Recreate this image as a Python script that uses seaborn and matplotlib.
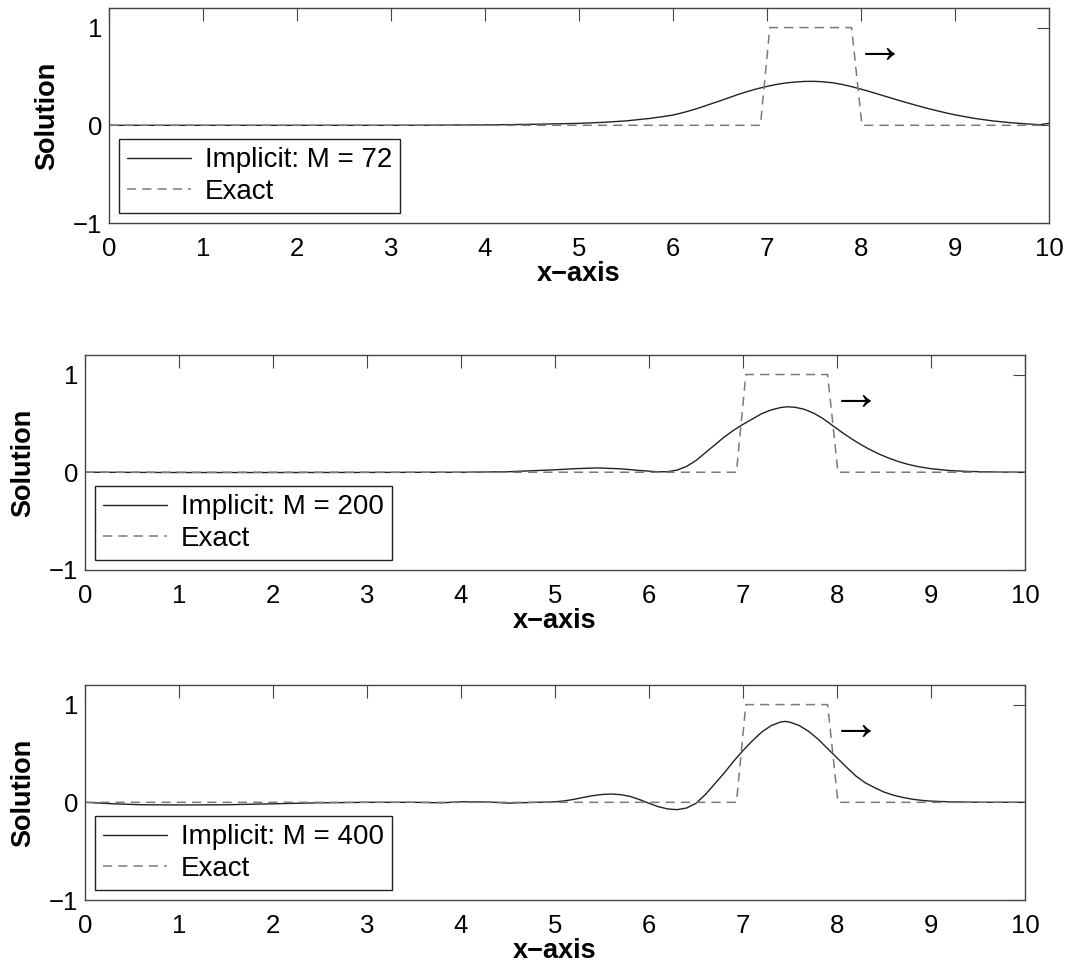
import matplotlib
matplotlib.use("Agg")
import matplotlib.pyplot as plt
import seaborn as sns

# ---------------- data ----------------
x_ticks = list(range(0, 11))
y_ticks = [-1, 0, 1]

exact_x = [0, 6.93, 7.03, 7.9, 8.01, 10]
exact_y = [0, 0, 1, 1, 0, 0]

m72_x = [0, 1, 2, 3, 3.5, 4, 4.5, 5, 5.25, 5.5, 5.75, 5.9, 6.0, 6.1, 6.2, 6.3,
         6.4, 6.5, 6.6, 6.7, 6.8, 6.9, 7.0, 7.1, 7.2, 7.3, 7.4, 7.5, 7.6, 7.7,
         7.8, 7.9, 8.0, 8.1, 8.2, 8.3, 8.4, 8.5, 8.6, 8.7, 8.8, 8.9, 9.0, 9.2,
         9.4, 9.6, 9.8, 9.9, 10]
m72_y = [0, 0, 0, 0, 0.002, 0.004, 0.01, 0.02, 0.03, 0.045, 0.07, 0.09, 0.105,
         0.128, 0.155, 0.185, 0.218, 0.25, 0.284, 0.318, 0.348, 0.375, 0.398,
         0.418, 0.433, 0.443, 0.449, 0.45, 0.445, 0.435, 0.418, 0.396, 0.37,
         0.343, 0.314, 0.285, 0.256, 0.228, 0.201, 0.175, 0.151, 0.128, 0.107,
         0.072, 0.045, 0.026, 0.012, 0.006, 0.02]

m200_x = [0, 1, 2, 3, 4, 4.5, 5.0, 5.2, 5.45, 5.7, 5.9, 6.1, 6.2, 6.3, 6.4, 6.5,
          6.6, 6.7, 6.8, 6.9, 7.0, 7.1, 7.2, 7.3, 7.4, 7.47, 7.55, 7.65, 7.75,
          7.85, 7.95, 8.05, 8.15, 8.25, 8.35, 8.45, 8.55, 8.65, 8.75, 8.85, 9.0,
          9.2, 9.4, 9.7, 10]
m200_y = [0, -0.003, -0.003, -0.002, 0, 0.005, 0.025, 0.036, 0.044, 0.035, 0.018,
          0.004, 0.006, 0.022, 0.06, 0.12, 0.2, 0.28, 0.36, 0.43, 0.49, 0.545,
          0.60, 0.638, 0.662, 0.67, 0.665, 0.645, 0.605, 0.55, 0.48, 0.41, 0.345,
          0.285, 0.232, 0.185, 0.145, 0.11, 0.082, 0.06, 0.036, 0.017, 0.008,
          0.002, 0]

m400_x = [0, 0.3, 0.6, 1, 1.5, 2, 2.5, 3, 3.5, 3.8, 4, 4.3, 4.5, 4.8, 5.0, 5.1,
          5.2, 5.3, 5.4, 5.5, 5.6, 5.7, 5.8, 5.9, 6.0, 6.1, 6.2, 6.3, 6.4, 6.5,
          6.6, 6.7, 6.8, 6.9, 7.0, 7.1, 7.2, 7.3, 7.4, 7.45, 7.5, 7.6, 7.7, 7.8,
          7.9, 8.0, 8.1, 8.2, 8.3, 8.4, 8.5, 8.6, 8.7, 8.8, 8.9, 9.0, 9.2, 9.5, 10]
m400_y = [0, -0.015, -0.025, -0.027, -0.025, -0.015, -0.005, 0, 0, -0.005, 0.006,
          0.003, -0.008, 0.0, 0.005, 0.015, 0.03, 0.05, 0.068, 0.08, 0.085, 0.078,
          0.06, 0.028, -0.01, -0.045, -0.068, -0.075, -0.058, -0.01, 0.08, 0.19,
          0.30, 0.42, 0.53, 0.63, 0.72, 0.785, 0.822, 0.828, 0.82, 0.785, 0.725,
          0.645, 0.55, 0.455, 0.36, 0.27, 0.2, 0.15, 0.105, 0.073, 0.05, 0.032,
          0.02, 0.012, 0.005, 0.001, 0]

series_labels = ["Implicit: M = 72", "Implicit: M = 200", "Implicit: M = 400"]
series_x = [m72_x, m200_x, m400_x]
series_y = [m72_y, m200_y, m400_y]
exact_label = "Exact"
arrow_text = "\u2192"
arrow_pos = (8.2, 0.78)

# ---------------- style ----------------
sns.set_style("white")
plt.rcParams["font.family"] = ["Liberation Sans", "DejaVu Sans"]
plt.rcParams["axes.unicode_minus"] = True
plt.rcParams["text.color"] = "black"
plt.rcParams["axes.labelcolor"] = "black"

fig = plt.figure(figsize=(10.75, 9.68), dpi=100)
positions = [[0.1014, 0.7696, 0.8744, 0.2221],
             [0.0791, 0.4112, 0.8744, 0.2221],
             [0.0791, 0.0702, 0.8744, 0.2221]]

for pos, xs, ys, lab in zip(positions, series_x, series_y, series_labels):
    ax = fig.add_axes(pos)
    sns.lineplot(x=xs, y=ys, ax=ax, color="#222222", linewidth=1.0,
                 estimator=None, sort=False, label=lab)
    sns.lineplot(x=exact_x, y=exact_y, ax=ax, color="#7a7a7a", linewidth=1.1,
                 linestyle=(0, (6, 4)), estimator=None, sort=False, label=exact_label)
    ax.set_xlim(0, 10)
    ax.set_ylim(-1, 1.2)
    ax.set_xticks(x_ticks)
    ax.set_yticks(y_ticks)
    ax.tick_params(direction="in", length=9, width=0.8, color="#444444",
                   top=True, right=True, labelsize=18.5, labelcolor="black")
    ax.tick_params(axis="x", pad=10)
    ax.tick_params(axis="y", pad=5)
    for s in ax.spines.values():
        s.set_visible(True)
        s.set_color("#444444")
        s.set_linewidth(1.0)
    ax.set_xlabel("x\u2212axis", fontsize=19.5, fontweight="bold", color="black")
    ax.set_ylabel("Solution", fontsize=19.5, fontweight="bold", color="black")
    ax.xaxis.set_label_coords(0.5, -0.175)
    ax.yaxis.set_label_coords(-0.052, 0.5)
    ax.text(arrow_pos[0], arrow_pos[1], arrow_text, fontsize=36,
            ha="center", va="center", color="black")
    leg = ax.legend(loc="lower left", fontsize=20, frameon=True, fancybox=False,
                    edgecolor="#222222", framealpha=1, handlelength=2.3,
                    handletextpad=0.5, borderpad=0.3, labelspacing=0.2,
                    borderaxespad=0.35)
    leg.get_frame().set_linewidth(1.0)
    for t in leg.get_texts():
        t.set_color("black")

fig.savefig("out.png", dpi=100)
